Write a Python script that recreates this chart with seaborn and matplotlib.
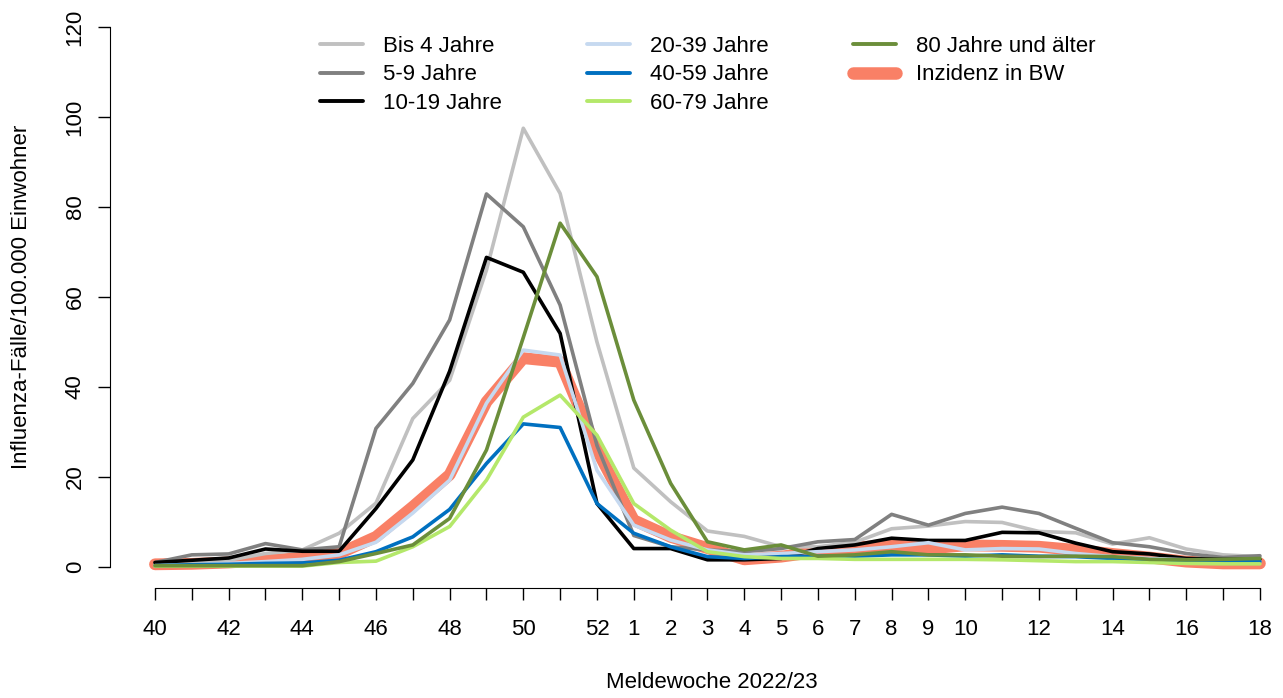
import matplotlib
matplotlib.use("Agg")
import matplotlib.pyplot as plt
import numpy as np
import seaborn as sns

sns.set_style("ticks")
plt.rcParams['font.family'] = ['Liberation Sans', 'DejaVu Sans']
plt.rcParams['text.color'] = 'black'
plt.rcParams['xtick.color'] = 'black'
plt.rcParams['ytick.color'] = 'black'

weeks = [40, 41, 42, 43, 44, 45, 46, 47, 48, 49, 50, 51, 52,
         1, 2, 3, 4, 5, 6, 7, 8, 9, 10, 11, 12, 13, 14, 15, 16, 17, 18]
shown_weeks = [40, 42, 44, 46, 48, 50, 52, 1, 2, 3, 4, 5, 6, 7, 8, 9, 10, 12, 14, 16, 18]

bis4 = [0.5, 1.0, 1.5, 3.0, 3.8, 7.5, 14.2, 33.0, 41.5, 66.0, 97.5, 83.0, 50.0,
        22.0, 14.5, 8.0, 6.8, 4.5, 4.5, 5.5, 8.5, 9.1, 10.1, 9.9, 7.9, 7.6, 5.1, 6.5, 4.0, 2.7, 2.3]
a5_9 = [1.0, 2.7, 2.9, 5.2, 3.8, 4.5, 30.8, 40.8, 54.9, 82.9, 75.6, 58.2, 27.0,
        7.0, 4.5, 3.8, 3.4, 4.1, 5.6, 6.1, 11.7, 9.3, 11.9, 13.3, 11.9, 8.6, 5.4, 4.5, 3.0, 2.1, 2.5]
a10_19 = [1.0, 1.5, 2.0, 4.0, 3.5, 3.5, 13.0, 23.8, 43.5, 68.8, 65.5, 51.9, 14.1,
          4.1, 4.1, 1.6, 1.6, 1.9, 4.1, 4.9, 6.4, 5.9, 5.9, 7.7, 7.6, 5.3, 3.4, 2.9, 1.9, 1.7, 1.7]
a20_39 = [0.3, 0.5, 0.8, 1.2, 1.7, 2.7, 5.5, 12.0, 19.3, 36.4, 48.2, 47.1, 21.5,
          9.3, 6.0, 3.8, 2.7, 3.0, 3.4, 3.8, 4.5, 5.4, 3.8, 4.1, 4.0, 3.0, 2.3, 1.9, 1.6, 1.6, 1.2]
a40_59 = [0.3, 0.5, 0.6, 0.8, 0.9, 1.5, 3.4, 6.7, 12.8, 23.0, 31.8, 31.0, 14.1,
          7.5, 4.5, 2.3, 1.9, 2.3, 2.4, 2.4, 2.7, 2.7, 2.4, 2.7, 2.4, 2.3, 1.9, 1.6, 1.4, 1.2, 1.2]
a60_79 = [0.2, 0.2, 0.2, 0.2, 0.2, 1.0, 1.3, 4.5, 9.0, 19.3, 33.3, 38.2, 29.3,
          14.1, 8.2, 3.4, 2.3, 1.9, 1.9, 1.7, 1.7, 1.7, 1.7, 1.6, 1.4, 1.2, 1.2, 1.0, 0.8, 0.7, 0.7]
a80 = [0.3, 0.3, 0.3, 0.3, 0.3, 1.2, 3.0, 4.9, 10.8, 26.0, 51.0, 76.4, 64.5,
       37.1, 18.6, 5.6, 3.8, 4.9, 2.4, 2.7, 3.4, 2.7, 2.7, 2.4, 2.3, 2.4, 2.3, 1.7, 1.6, 1.7, 1.9]
bw = [0.6, 0.7, 1.0, 1.5, 2.0, 3.0, 6.7, 13.4, 20.5, 36.7, 46.4, 45.6, 26.0,
      10.4, 6.7, 4.2, 1.7, 2.3, 3.4, 4.3, 4.9, 4.1, 4.8, 4.7, 4.5, 3.8, 2.9, 2.1, 1.2, 0.8, 0.8]

series = [
    ("Bis 4 Jahre", bis4, "#c0c0c0"),
    ("5-9 Jahre", a5_9, "#808080"),
    ("10-19 Jahre", a10_19, "#000000"),
    ("20-39 Jahre", a20_39, "#c6d9f0"),
    ("40-59 Jahre", a40_59, "#0070c0"),
    ("60-79 Jahre", a60_79, "#b4e86a"),
    ("80 Jahre und älter", a80, "#6b8e3a"),
]
bw_color = "#f98066"

x = np.arange(len(weeks))

fig = plt.figure(figsize=(12.83, 6.98), dpi=100)
ax = fig.add_axes([110 / 1283, 1 - 588 / 698, 1165 / 1283, 568 / 698])

# BW incidence drawn first as a wide band
sns.lineplot(x=x, y=bw, color=bw_color, linewidth=8.5, ax=ax,
             solid_capstyle="round", solid_joinstyle="round", legend=False)
for name, vals, col in series:
    sns.lineplot(x=x, y=vals, color=col, linewidth=2.6, ax=ax, legend=False)

ax.set_xlim((110 - 155) / 36.83, (1275 - 155) / 36.83)
ax.set_ylim((567 - 588) / 4.5, (567 - 20) / 4.5)

ax.set_xticks(x)
ax.set_xticklabels([str(w) if w in shown_weeks else "" for w in weeks])
ax.set_yticks([0, 20, 40, 60, 80, 100, 120])
ax.tick_params(axis="x", length=8.5, width=1, pad=14, labelsize=16, color="black")
ax.tick_params(axis="y", length=8.5, width=1, pad=9, labelsize=16, labelrotation=90, color="black")
for lab in ax.get_yticklabels():
    lab.set_va("center")

sns.despine(ax=ax)
ax.spines["left"].set_bounds(0, 120)
ax.spines["bottom"].set_bounds(0, len(weeks) - 1)
ax.spines["left"].set_color("black")
ax.spines["bottom"].set_color("black")
ax.set_xlabel("")
ax.set_ylabel("")

fig.text(22 / 1283, 1 - 297 / 698, "Influenza-Fälle/100.000 Einwohner",
         rotation=90, ha="center", va="center", fontsize=16)
fig.text(712 / 1283, 1 - 682 / 698, "Meldewoche 2022/23",
         ha="center", va="center", fontsize=16)

handles = [plt.Line2D([], [], color=c, linewidth=2.8) for _, _, c in series]
labels = [n for n, _, _ in series]
handles.append(plt.Line2D([], [], color=bw_color, linewidth=9, solid_capstyle="round"))
labels.append("Inzidenz in BW")
fig.legend(handles, labels, loc="upper left", bbox_to_anchor=(320 / 1283, 1 - 36 / 698),
           ncol=3, frameon=False, fontsize=16, handlelength=1.95, handletextpad=0.9,
           columnspacing=3.8, labelspacing=0.33, borderpad=0, borderaxespad=0)

fig.savefig("out.png", dpi=100)
